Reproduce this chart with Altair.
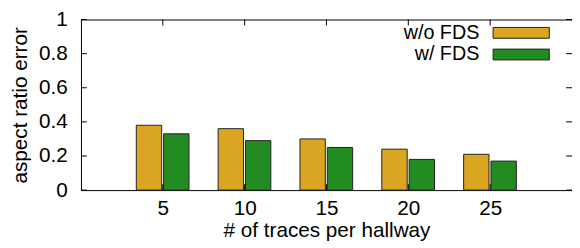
import altair as alt
import pandas as pd

traces = [5, 10, 15, 20, 25]
wo_fds = [0.38, 0.36, 0.30, 0.24, 0.21]
w_fds = [0.33, 0.29, 0.25, 0.18, 0.17]
series_names = ["w/o FDS", "w/ FDS"]
colors = ["#DAA520", "#228B22"]
y_ticks = [0, 0.2, 0.4, 0.6, 0.8, 1]

rows = []
for i, t in enumerate(traces):
    rows.append({"traces": t, "series": series_names[0], "value": wo_fds[i], "idx": 0})
    rows.append({"traces": t, "series": series_names[1], "value": w_fds[i], "idx": 1})
df = pd.DataFrame(rows)

W, H = 498, 173
FONT = "Liberation Sans"
FS = 21

xscale = alt.Scale(domain=[0, 30], nice=False, zero=False)
yscale = alt.Scale(domain=[0, 1], nice=False)
cscale = alt.Scale(domain=series_names, range=colors)

xaxis = alt.Axis(values=traces, title="# of traces per hallway",
                 labelPadding=8, titlePadding=1, format="d")
yaxis = alt.Axis(values=y_ticks, title="aspect ratio error",
                 labelPadding=14, titlePadding=8, format="~g")

bars = alt.Chart(df).transform_calculate(
    x0="datum.traces + (datum.idx == 0 ? -1.62 : 0.05)",
    x1="datum.traces + (datum.idx == 0 ? -0.07 : 1.6)",
).mark_rect(stroke="#222", strokeWidth=1).encode(
    x=alt.X("x0:Q", scale=xscale, axis=xaxis),
    x2="x1:Q",
    y=alt.Y("value:Q", scale=yscale, axis=yaxis),
    y2=alt.datum(0),
    color=alt.Color("series:N", scale=cscale, legend=None),
)

ydf = pd.DataFrame({"v": y_ticks})
xdf = pd.DataFrame({"t": traces})

ytick_l = alt.Chart(ydf).mark_rule(color="black").encode(
    y=alt.Y("v:Q", scale=yscale, axis=yaxis), x=alt.value(0), x2=alt.value(6))
ytick_r = alt.Chart(ydf).mark_rule(color="black").encode(
    y=alt.Y("v:Q", scale=yscale, axis=yaxis), x=alt.value(W - 6), x2=alt.value(W))
xtick_b = alt.Chart(xdf).mark_rule(color="black").encode(
    x=alt.X("t:Q", scale=xscale, axis=xaxis), y=alt.value(H), y2=alt.value(H - 6))
xtick_t = alt.Chart(xdf).mark_rule(color="black").encode(
    x=alt.X("t:Q", scale=xscale, axis=xaxis), y=alt.value(0), y2=alt.value(6))

legend_layers = []
for i, name in enumerate(series_names):
    ldf = pd.DataFrame({"series": [name]})
    legend_layers.append(
        alt.Chart(ldf).mark_text(align="right", baseline="middle", font=FONT,
                                 fontSize=20, color="black").encode(
            text="series:N", x=alt.value(404), y=alt.value(14 + 21 * i)))
    legend_layers.append(
        alt.Chart(ldf).mark_rect(stroke="#222", strokeWidth=1).encode(
            x=alt.value(418), x2=alt.value(475),
            y=alt.value(8 + 22 * i), y2=alt.value(19 + 22 * i),
            color=alt.Color("series:N", scale=cscale, legend=None)))

chart = alt.layer(bars, ytick_l, ytick_r, xtick_b, xtick_t, *legend_layers).properties(
    width=W, height=H,
    autosize=alt.AutoSizeParams(type="none"),
    padding={"left": 74, "top": 10, "right": 0, "bottom": 55},
).configure_view(stroke="black", strokeWidth=1).configure_axis(
    labelFont=FONT, titleFont=FONT, labelFontSize=FS, titleFontSize=FS,
    labelColor="black", titleColor="black", titleFontWeight="normal",
    domain=False, ticks=False, grid=False,
)

chart.save("out.html", embed_options={"renderer": "svg", "actions": False})
